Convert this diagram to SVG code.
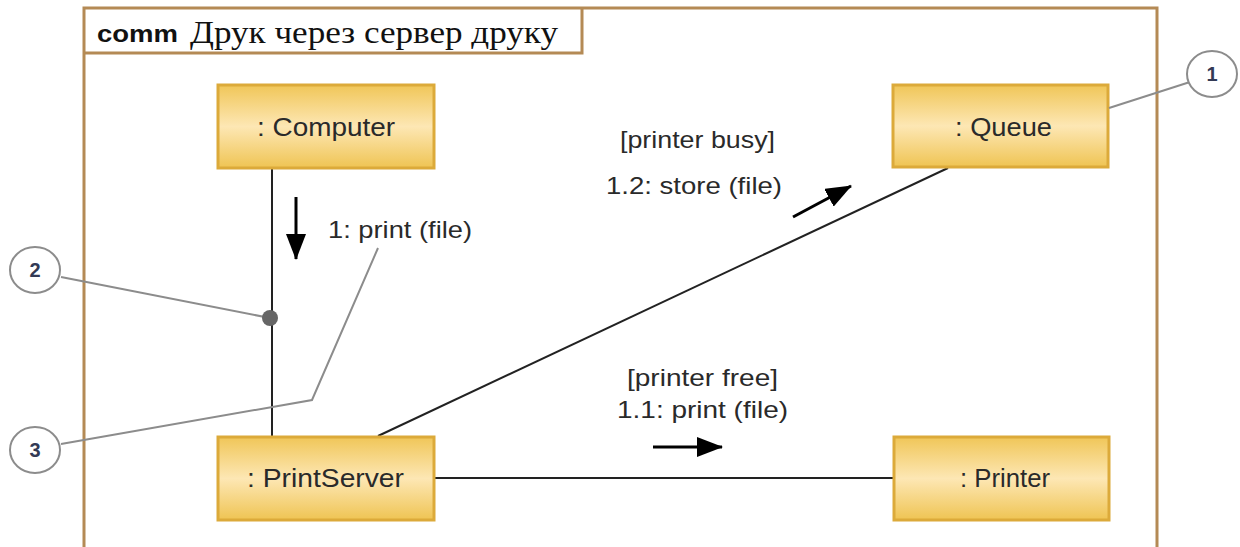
<svg xmlns="http://www.w3.org/2000/svg" width="1240" height="547" viewBox="0 0 1240 547">
  <defs>
    <linearGradient id="boxFill" x1="0" y1="0" x2="0" y2="1">
      <stop offset="0" stop-color="#f0c658"/>
      <stop offset="0.5" stop-color="#fde7b4"/>
      <stop offset="1" stop-color="#efc453"/>
    </linearGradient>
    <marker id="tri" viewBox="0 0 26 20" refX="25" refY="10" markerWidth="26" markerHeight="20" markerUnits="userSpaceOnUse" orient="auto">
      <path d="M0,0 L26,10 L0,20 z" fill="#000"/>
    </marker>
    <style>
      .node rect { fill: url(#boxFill); stroke: #dcaa3a; stroke-width: 3; }
      .node text { font-family: "Liberation Sans", Arial, sans-serif; font-size: 25px; fill: #2a2a2a; }
      .link { stroke: #222; stroke-width: 2; fill: none; }
      .msg { stroke: #000; stroke-width: 3; fill: none; }
      .lbl { font-family: "Liberation Sans", Arial, sans-serif; font-size: 24px; fill: #2a2a2a; }
      .note { stroke: #8c8c8c; stroke-width: 2; fill: none; }
      .callout ellipse { fill: #fff; stroke: #8c8c8c; stroke-width: 2; }
      .callout text { font-family: "Liberation Sans", Arial, sans-serif; font-size: 20px; font-weight: bold; fill: #333a55; text-anchor: middle; }
    </style>
  </defs>

  <rect width="1240" height="547" fill="#fff"/>

  <!-- diagram frame -->
  <g id="frame">
    <path d="M84,560 V8 H1157 V560" fill="none" stroke="#b48a55" stroke-width="3"/>
    <path d="M84,53 H582 V8" fill="none" stroke="#b48a55" stroke-width="3"/>
    <text x="97" y="42" font-family="Liberation Sans, Arial, sans-serif" font-size="24" font-weight="bold" fill="#111" textLength="81" lengthAdjust="spacingAndGlyphs">comm</text>
    <text x="190" y="43" font-family="Liberation Serif, Times New Roman, serif" font-size="31" fill="#111" textLength="368" lengthAdjust="spacingAndGlyphs">Друк через сервер друку</text>
  </g>

  <!-- connectors and messages -->
  <g id="connectors">
    <line class="link" x1="272" y1="169" x2="272" y2="436"/>
    <line class="link" x1="378" y1="436" x2="948" y2="168"/>
    <line class="link" x1="435" y1="478" x2="893" y2="478"/>

    <line class="msg" x1="296" y1="197" x2="296" y2="259" marker-end="url(#tri)"/>
    <line class="msg" x1="793" y1="217" x2="851" y2="186" marker-end="url(#tri)"/>
    <line class="msg" x1="653" y1="447" x2="722" y2="447" marker-end="url(#tri)"/>

    <text class="lbl" x="328" y="238" textLength="144" lengthAdjust="spacingAndGlyphs">1: print (file)</text>
    <text class="lbl" x="620" y="148" textLength="155" lengthAdjust="spacingAndGlyphs">[printer busy]</text>
    <text class="lbl" x="606" y="194" textLength="176" lengthAdjust="spacingAndGlyphs">1.2: store (file)</text>
    <text class="lbl" x="627" y="386" textLength="151" lengthAdjust="spacingAndGlyphs">[printer free]</text>
    <text class="lbl" x="617" y="418" textLength="171" lengthAdjust="spacingAndGlyphs">1.1: print (file)</text>
  </g>

  <g id="computer" class="node">
    <rect x="218" y="85" width="216" height="83"/>
    <text x="257" y="136" textLength="138" lengthAdjust="spacingAndGlyphs">: Computer</text>
  </g>
  <g id="queue" class="node">
    <rect x="893" y="85" width="215" height="82"/>
    <text x="955" y="136" textLength="97" lengthAdjust="spacingAndGlyphs">: Queue</text>
  </g>
  <g id="printserver" class="node">
    <rect x="218" y="437" width="216" height="83"/>
    <text x="247" y="487" textLength="157" lengthAdjust="spacingAndGlyphs">: PrintServer</text>
  </g>
  <g id="printer" class="node">
    <rect x="894" y="437" width="215" height="83"/>
    <text x="960" y="487" textLength="90" lengthAdjust="spacingAndGlyphs">: Printer</text>
  </g>

  <!-- annotation callouts -->
  <g id="callout-lines">
    <line class="note" x1="1109" y1="108" x2="1190" y2="82"/>
    <line class="note" x1="61" y1="277" x2="270" y2="318"/>
    <circle cx="270" cy="318" r="8" fill="#666"/>
    <polyline class="note" points="61,444 312,400 378,248"/>
  </g>
  <g id="callout-1" class="callout">
    <ellipse cx="1212" cy="74" rx="25" ry="23"/>
    <text x="1212" y="81">1</text>
  </g>
  <g id="callout-2" class="callout">
    <ellipse cx="35" cy="270" rx="25" ry="23"/>
    <text x="35" y="277">2</text>
  </g>
  <g id="callout-3" class="callout">
    <ellipse cx="35" cy="450" rx="25" ry="23"/>
    <text x="35" y="457">3</text>
  </g>
</svg>
